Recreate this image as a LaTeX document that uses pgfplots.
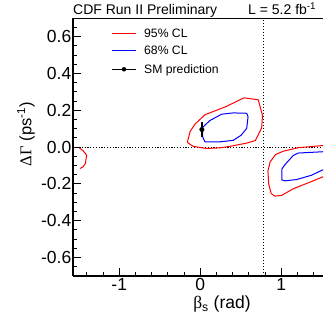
\documentclass[border=0pt]{standalone}
\usepackage{fontspec}
\setmainfont{Liberation Sans}
\newfontfamily\greek{Liberation Serif}
\usepackage{pgfplots}
\pgfplotsset{compat=1.18}
\definecolor{cred}{RGB}{255,0,0}
\definecolor{cblue}{RGB}{0,0,255}
\begin{document}
\begin{tikzpicture}
\begin{axis}[
  scale only axis, width=250pt, height=257.7pt,
  xmin=-1.5708, xmax=1.515, ymin=-0.7, ymax=0.7,
  axis x line*=box, axis y line*=left,
  xtick pos=bottom, ytick pos=left,
  axis line style={line width=1.5pt},
  xtick={-1,0,1}, xticklabels={-1,0,1},
  ytick={-0.6,-0.4,-0.2,0,0.2,0.4,0.6},
  yticklabels={-0.6,-0.4,-0.2,0.0,0.2,0.4,0.6},
  minor xtick={-1.4,-1.2,-0.8,-0.6,-0.4,-0.2,0.2,0.4,0.6,0.8,1.2,1.4},
  minor ytick={-0.65,-0.55,-0.5,-0.45,-0.35,-0.3,-0.25,-0.15,-0.1,-0.05,0.05,0.1,0.15,0.25,0.3,0.35,0.45,0.5,0.55,0.65},
  tick align=inside,
  major tick length=8pt, minor tick length=4pt,
  tick style={black, line width=1pt},
  xticklabel style={font=\fontsize{17.5}{20}\selectfont, inner ysep=2pt},
  yticklabel style={font=\fontsize{17.5}{20}\selectfont, inner xsep=1.5pt},
  xlabel={{\greek β}\textsubscript{s} (rad)},
  ylabel={{\greek ΔΓ} (ps\textsuperscript{-1})},
  xlabel style={font=\fontsize{17.5}{20}\selectfont, at={(rel axis cs:0.596,0)}, anchor=center, yshift=-28pt},
  ylabel style={font=\fontsize{16.5}{20}\selectfont, at={(rel axis cs:-0.188,0.55)}, anchor=center},
]
\coordinate (bl) at (rel axis cs:0,0);
\coordinate (tr) at (rel axis cs:1,1);
\coordinate (tl) at (rel axis cs:0,1);
% dotted reference lines
\addplot[black, line width=1.1pt, dash pattern=on 1.2pt off 1.6pt] coordinates {(-1.6,0) (1.6,0)};
\addplot[black, line width=0.9pt, dash pattern=on 1.3pt off 1.7pt] coordinates {(0.785,-0.7) (0.785,0.7)};
% 95% CL
\addplot[cred, line width=1pt, line join=round] coordinates {
(-0.16,0.026) (-0.125,0.085) (-0.065,0.125) (0.058,0.176) (0.326,0.222) (0.54,0.268) (0.716,0.257) (0.768,0.172) (0.758,0.105) (0.68,0.036) (0.573,0.022) (0.36,0.004) (0.243,-0.004) (0.079,-0.007) (-0.086,0.004) (-0.16,0.026)};
% 68% CL
\addplot[cblue, line width=1pt, line join=round] coordinates {
(0.03,0.108) (0.12,0.145) (0.264,0.179) (0.407,0.186) (0.573,0.184) (0.59,0.165) (0.573,0.102) (0.505,0.065) (0.407,0.037) (0.243,0.029) (0.058,0.029) (0.03,0.056) (0.03,0.108)};
% SM prediction
\addplot[black, mark=*, mark size=2pt, line width=1pt,
  error bars/.cd, y dir=both, y explicit, error mark=none,
  error bar style={line width=1.3pt}] coordinates {(0.02,0.096) +- (0,0.039)};
% right island
\addplot[cred, line width=1pt, line join=round] coordinates {
(1.62,0.012) (1.519,0.009) (1.21,-0.003) (1.025,-0.022) (0.93,-0.04) (0.862,-0.08) (0.835,-0.13) (0.845,-0.2) (0.875,-0.252) (0.92,-0.266) (1.005,-0.262) (1.148,-0.226) (1.354,-0.19) (1.51,-0.162) (1.62,-0.14)};
\addplot[cblue, line width=1pt, line join=round] coordinates {
(1.62,-0.024) (1.51,-0.025) (1.21,-0.032) (1.148,-0.045) (1.046,-0.095) (1.008,-0.118) (1.008,-0.179) (1.046,-0.183) (1.19,-0.176) (1.37,-0.153) (1.51,-0.124) (1.62,-0.11)};
% left piece
\addplot[cred, line width=1pt, line join=round] coordinates {
(-1.49,-0.005) (-1.448,-0.019) (-1.402,-0.043) (-1.418,-0.089) (-1.447,-0.107) (-1.485,-0.116)};
% legend samples
\addplot[cred, line width=1.2pt] coordinates {(-1.089,0.617) (-0.793,0.617)};
\addplot[cblue, line width=1.2pt] coordinates {(-1.089,0.523) (-0.793,0.523)};
\addplot[black, line width=1.1pt] coordinates {(-1.089,0.423) (-0.793,0.423)};
\addplot[black, only marks, mark=*, mark size=2pt] coordinates {(-0.941,0.423)};
\end{axis}
\node[anchor=base west, inner sep=0pt, font=\fontsize{12.2}{14}\selectfont] at ([shift={(71pt,-19pt)}]tl) {95\% CL};
\node[anchor=base west, inner sep=0pt, font=\fontsize{12.2}{14}\selectfont] at ([shift={(71pt,-36.4pt)}]tl) {68\% CL};
\node[anchor=base west, inner sep=0pt, font=\fontsize{12.2}{14}\selectfont] at ([shift={(71pt,-55pt)}]tl) {SM prediction};
\node[anchor=base west, inner sep=0pt, font=\fontsize{14}{16}\selectfont] at ([yshift=3.3pt]tl) {CDF Run II Preliminary};
\node[anchor=base west, inner sep=0pt, font=\fontsize{14}{16}\selectfont] at ([shift={(175pt,3.3pt)}]tl) {L = 5.2 fb\textsuperscript{-1}};
\pgfresetboundingbox
\path ([shift={(-73pt,-49pt)}]bl) rectangle ([shift={(0pt,18.3pt)}]tr);
\end{tikzpicture}
\end{document}
